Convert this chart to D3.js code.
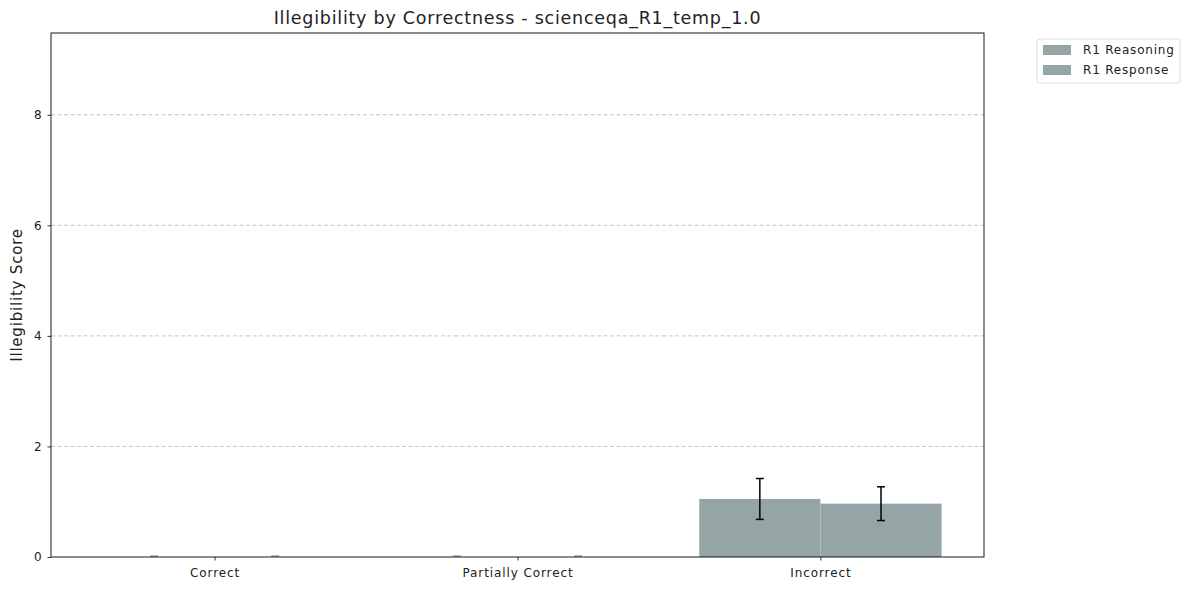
<!DOCTYPE html>
<html>
<head>
<meta charset="utf-8">
<script src="https://cdn.jsdelivr.net/npm/d3@7"></script>
<style>
  body { margin: 0; background: #fff; }
  svg { font-family: "DejaVu Sans", sans-serif; }
</style>
</head>
<body>
<svg id="chart" width="1190" height="590"></svg>
<script>
var categories = ["Correct", "Partially Correct", "Incorrect"];
var seriesNames = ["R1 Reasoning", "R1 Response"];
var reasoningVals = [0, 0, 1.05];
var reasoningErr = [0, 0, 0.37];
var responseVals = [0, 0, 0.965];
var responseErr = [0, 0, 0.305];
var yTickValues = [0, 2, 4, 6, 8];

var barColor = "#95a5a6";
var margin = {top: 33, right: 206, bottom: 33, left: 51}
    , W = 1190, H = 590
    , width = W - margin.left - margin.right
    , height = H - margin.top - margin.bottom;

var svg = d3.select("#chart");
var g = svg.append("g").attr("transform", "translate(" + margin.left + "," + margin.top + ")");

var x = d3.scaleLinear().domain([-0.54, 2.54]).range([0, width]);
var y = d3.scaleLinear().domain([0, 9.48]).range([height, 0]);
var barW = 0.4;

// grid
g.append("g")
    .selectAll("line")
    .data(yTickValues.filter(v => v > 0))
    .enter().append("line")
    .attr("x1", 0).attr("x2", width)
    .attr("y1", d => y(d)).attr("y2", d => y(d))
    .attr("stroke", "#b8b8b8")
    .attr("stroke-width", 0.8)
    .attr("stroke-dasharray", "4,2.5");

var series = [
    {name: seriesNames[0], vals: reasoningVals, err: reasoningErr, off: -0.2},
    {name: seriesNames[1], vals: responseVals, err: responseErr, off: 0.2}
];

series.forEach(function(s) {
    var sg = g.append("g");
    sg.selectAll("rect")
        .data(s.vals)
        .enter().append("rect")
        .attr("x", (d, i) => x(i + s.off - barW / 2))
        .attr("width", x(barW) - x(0))
        .attr("y", d => y(d))
        .attr("height", d => y(0) - y(d))
        .attr("fill", barColor);

    var eg = sg.selectAll("g.err")
        .data(s.vals.map((v, i) => ({v: v, e: s.err[i], i: i})))
        .enter().append("g")
        .attr("class", "err")
        .attr("stroke", "#000")
        .attr("opacity", d => d.e > 0 ? 1 : 0.35)
        .attr("stroke-width", 1.5);
    eg.append("line")
        .attr("x1", d => x(d.i + s.off)).attr("x2", d => x(d.i + s.off))
        .attr("y1", d => y(d.v - d.e)).attr("y2", d => y(d.v + d.e));
    eg.append("line")
        .attr("x1", d => x(d.i + s.off) - 4).attr("x2", d => x(d.i + s.off) + 4)
        .attr("y1", d => y(d.v + d.e) - (d.e > 0 ? 0 : 1)).attr("y2", d => y(d.v + d.e) - (d.e > 0 ? 0 : 1));
    eg.filter(d => d.e > 0).append("line")
        .attr("x1", d => x(d.i + s.off) - 4).attr("x2", d => x(d.i + s.off) + 4)
        .attr("y1", d => y(d.v - d.e)).attr("y2", d => y(d.v - d.e));
});

// axes
var xAxis = d3.axisBottom(x)
    .tickValues(categories.map((c, i) => i))
    .tickFormat(i => categories[i])
    .tickSizeInner(3.5).tickSizeOuter(0).tickPadding(4);
var yAxis = d3.axisLeft(y)
    .tickValues(yTickValues)
    .tickFormat(d3.format("d"))
    .tickSizeInner(3.5).tickSizeOuter(0).tickPadding(5);

var xg = g.append("g").attr("transform", "translate(0," + height + ")").call(xAxis);
var yg = g.append("g").call(yAxis);
[xg, yg].forEach(function(a) {
    a.select(".domain").remove();
    a.selectAll("text").attr("font-size", 12).attr("fill", "#222")
        .attr("letter-spacing", 0.9)
        .attr("font-family", "DejaVu Sans, sans-serif");
    a.selectAll("line").attr("stroke", "#000").attr("stroke-width", 0.8);
});
xg.selectAll("text").attr("dy", "1.0em");

g.append("rect")
    .attr("width", width).attr("height", height)
    .attr("fill", "none").attr("stroke", "#000").attr("stroke-width", 0.9);

// title + labels
svg.append("text")
    .attr("x", margin.left + width / 2).attr("y", 24)
    .attr("text-anchor", "middle")
    .attr("font-size", 17.5).attr("letter-spacing", 0.75).attr("fill", "#222")
    .text("Illegibility by Correctness - scienceqa_R1_temp_1.0");

svg.append("text")
    .attr("transform", "translate(22," + (margin.top + height / 2) + ") rotate(-90)")
    .attr("text-anchor", "middle")
    .attr("font-size", 15).attr("letter-spacing", 0.8).attr("fill", "#222")
    .text("Illegibility Score");

// legend
var lg = svg.append("g").attr("transform", "translate(1037,39)");
lg.append("rect")
    .attr("width", 143).attr("height", 44).attr("rx", 2.5)
    .attr("fill", "#fff").attr("stroke", "#d0d0d0").attr("stroke-width", 0.8);
seriesNames.forEach(function(n, i) {
    lg.append("rect")
        .attr("x", 6).attr("y", 6 + i * 20)
        .attr("width", 28).attr("height", 10)
        .attr("fill", barColor);
    lg.append("text")
        .attr("x", 46).attr("y", 11 + i * 20)
        .attr("dy", "0.35em")
        .attr("font-size", 12).attr("letter-spacing", 0.8).attr("fill", "#222")
        .text(n);
});
</script>
</body>
</html>
